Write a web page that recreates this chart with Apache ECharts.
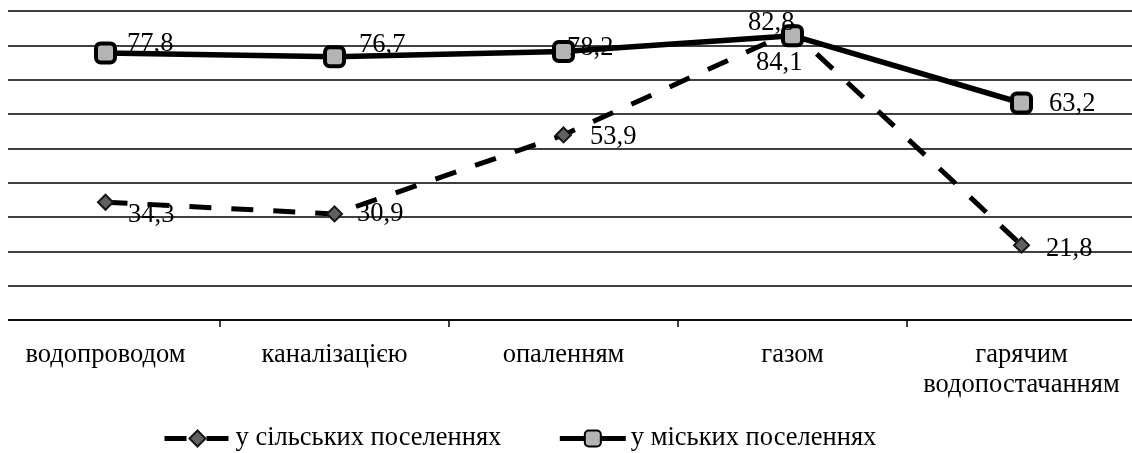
<!DOCTYPE html>
<html><head><meta charset="utf-8">
<script src="https://cdn.jsdelivr.net/npm/echarts@6/dist/echarts.min.js"></script>
<style>html,body{margin:0;padding:0;background:#fff;overflow:hidden;width:1132px;height:453px;position:relative}
#c{position:absolute;left:-9px;top:0;width:1145px;height:453px}</style>
</head><body><div id="c"></div>
<script>
const categories = ['водопроводом', 'каналізацією', 'опаленням', 'газом', 'гарячим\nводопостачанням'];
const ruralValues = [34.3, 30.9, 53.9, 84.1, 21.8];
const urbanValues = [77.8, 76.7, 78.2, 82.8, 63.2];
const seriesNames = ['у сільських поселеннях', 'у міських поселеннях'];

const F = '"Liberation Serif", "Times New Roman", serif';
const FS = 26.5;
const fmt = p => String(p.value).replace('.', ',');
const ruralOffsets = [[9, 13], [9, 0], [13, 2], [-50, 32], [11, 4]];
const urbanOffsets = [[5, -9], [8, -12], [-13, -3], [-61, -13], [11, 1]];

const chart = echarts.init(document.getElementById('c'));
chart.setOption({
  animation: false,
  backgroundColor: '#fff',
  grid: { left: 0, right: 0, top: 11, bottom: 133 },
  xAxis: {
    type: 'category', data: categories, boundaryGap: true,
    axisLine: { lineStyle: { color: '#000', width: 1.5 } },
    axisTick: { show: true, length: 7, lineStyle: { color: '#000', width: 1.5 } },
    axisLabel: { color: '#000', fontFamily: F, fontSize: FS, margin: 20, lineHeight: 30, interval: 0 }
  },
  yAxis: {
    type: 'value', min: 0, max: 90, interval: 10,
    axisLine: { show: false }, axisTick: { show: false }, axisLabel: { show: false },
    splitLine: { lineStyle: { color: '#000', width: 1.5 } }
  },
  legend: {
    left: 166, top: 420, itemWidth: 66, itemHeight: 20, itemGap: 56,
    textStyle: { color: '#000', fontFamily: F, fontSize: FS },
    lineStyle: { width: 5 },
    data: seriesNames
  },
  series: [
    {
      name: seriesNames[0], type: 'line', data: ruralValues,
      symbol: 'diamond', symbolSize: 15,
      lineStyle: { color: '#000', width: 5, type: [22, 20] },
      itemStyle: { color: '#606060', borderColor: '#151515', borderWidth: 2 },
      label: {
        show: true, position: 'right', distance: 5, formatter: fmt,
        color: '#000', fontFamily: F, fontSize: FS
      },
      labelLayout: p => ({ dx: ruralOffsets[p.dataIndex][0], dy: ruralOffsets[p.dataIndex][1] }),
      z: 2
    },
    {
      name: seriesNames[1], type: 'line', data: urbanValues,
      symbol: 'roundRect', symbolSize: 19,
      lineStyle: { color: '#000', width: 5.5 },
      itemStyle: { color: '#b4b4b4', borderColor: '#000', borderWidth: 4 },
      label: {
        show: true, position: 'right', distance: 5, formatter: fmt,
        color: '#000', fontFamily: F, fontSize: FS
      },
      labelLayout: p => ({ dx: urbanOffsets[p.dataIndex][0], dy: urbanOffsets[p.dataIndex][1] }),
      z: 3
    }
  ],
  graphic: [{ type: 'rect', left: 0, top: 0, shape: { width: 17, height: 330 }, style: { fill: '#fff' }, z: 100 }]
});
</script></body></html>
